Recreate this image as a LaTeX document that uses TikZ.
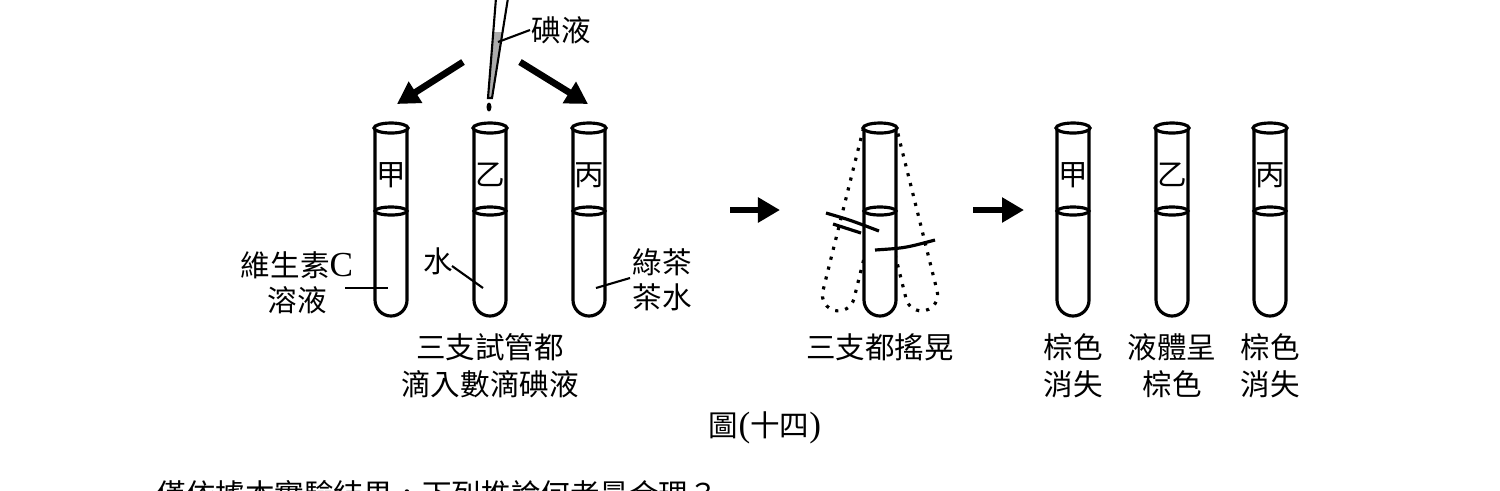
\documentclass[tikz,border=0pt]{standalone}
\usepackage{fontspec}
\setmainfont{Noto Sans CJK TC}
\newfontfamily\lat{Liberation Serif}
\usetikzlibrary{arrows.meta}
\begin{document}
\begin{tikzpicture}[x=0.01cm,y=-0.01cm,line width=0.9pt,
  lbl/.style={font=\fontsize{8.4}{10}\selectfont,inner sep=0pt},
  big/.style={line width=1.9pt,-{Triangle[length=0.22cm,width=0.24cm]}},
  lead/.style={line width=0.6pt},
  pics/tube/.style={code={
    \draw[fill=white] (-16,128) -- (-16,300) arc[start angle=180,end angle=360,radius=0.16cm] -- (16,128);
    \draw[fill=white] (0,128) ellipse[x radius=0.17cm,y radius=0.05cm];
    \draw (0,211) ellipse[x radius=0.16cm,y radius=0.04cm];
  }}]
\useasboundingbox (0,0) rectangle (1500,490);
% dropper
\fill[gray!65] (494,32) -- (503,32) -- (492,97) -- (488.5,97) -- cycle;
\draw[line width=0.6pt] (508,-2) -- (492,98) -- (488,98) -- (496,-2);
\fill (489,107) ellipse[x radius=0.025cm,y radius=0.045cm];
\node[lbl,anchor=west] (iod) at (530,30) {碘液};
\draw[lead] (498,42) -- (iod.west);
\coordinate (aL0) at (463,62); \coordinate (aL1) at (397,104);
\coordinate (aR0) at (520,62); \coordinate (aR1) at (588,104);
\draw[big] (aL0) -- (aL1);
\draw[big] (aR0) -- (aR1);
% first three tubes
\pic at (391,0) {tube}; \pic at (490,0) {tube}; \pic at (589,0) {tube};
\node[lbl] (k1) at (391,175) {甲};
\node[lbl] (k2) at (490,175) {乙};
\node[lbl] (k3) at (589,175) {丙};
\node[lbl] (vc) at (297,265) {維生素{\lat\fontsize{10}{11}\selectfont C}};
\node[lbl] (vc2) at (297,300) {溶液};
\coordinate (vcE) at (388,288);
\draw[lead] (345,288) -- (vcE);
\node[lbl] (w) at (438,261) {水};
\coordinate (wE) at (483,288);
\draw[lead] (452,266) -- (wE);
\node[lbl] (g1) at (662,262) {綠茶};
\node[lbl] (g2) at (662,297) {茶水};
\coordinate (gE) at (596,288);
\draw[lead] (630,278) -- (gE);
\node[lbl] (t1) at (490,347) {三支試管都};
\node[lbl] (t2) at (490,384) {滴入數滴碘液};
% arrows
\coordinate (m0) at (730,210); \coordinate (m1) at (780,210);
\draw[big] (m0) -- (m1);
\coordinate (n0) at (973,210); \coordinate (n1) at (1024,210);
\draw[big] (n0) -- (n1);
% shaken tube
\begin{scope}[dotted,line width=0.9pt]
\draw[rotate around={-14:(880,128)}] (864,132) -- (864,300) arc[start angle=180,end angle=360,radius=0.16cm] -- (896,132);
\draw[rotate around={14:(880,128)}] (864,132) -- (864,300) arc[start angle=180,end angle=360,radius=0.16cm] -- (896,132);
\end{scope}
\pic at (880,0) {tube};
\draw (826,213) .. controls (850,220) .. (879,231);
\draw (833,224) -- (861,233);
\draw (875,250) .. controls (905,248) .. (935,240);
\node[lbl] (t3) at (880,347) {三支都搖晃};
% result tubes
\pic at (1073,0) {tube}; \pic at (1172,0) {tube}; \pic at (1270,0) {tube};
\node[lbl] (r1) at (1073,175) {甲};
\node[lbl] (r2) at (1172,175) {乙};
\node[lbl] (r3) at (1270,175) {丙};
\node[lbl] (c1a) at (1073,347) {棕色};
\node[lbl] (c1b) at (1073,384) {消失};
\node[lbl] (c2a) at (1172,347) {液體呈};
\node[lbl] (c2b) at (1172,384) {棕色};
\node[lbl] (c3a) at (1270,347) {棕色};
\node[lbl] (c3b) at (1270,384) {消失};
\node[lbl] (fig) at (765,428) {圖{\lat\fontsize{10}{11}\selectfont (}十四{\lat\fontsize{10}{11}\selectfont )}};
\node[lbl,anchor=west] (q) at (155,494) {僅依據本實驗結果，下列推論何者最合理？};
\end{tikzpicture}
\end{document}
